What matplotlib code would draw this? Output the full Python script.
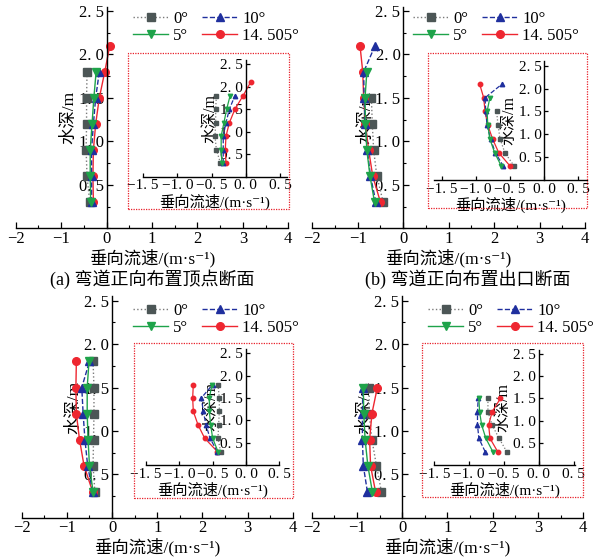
import matplotlib
matplotlib.use("Agg")
import matplotlib.pyplot as plt
from matplotlib.ticker import FixedLocator, FuncFormatter, MultipleLocator
from matplotlib.patches import Rectangle

plt.rcParams['font.family'] = ['Liberation Serif', 'Noto Sans CJK SC', 'DejaVu Serif']
plt.rcParams['axes.unicode_minus'] = True

# ---------------- data ----------------
depth6 = [0.3, 0.6, 0.9, 1.2, 1.5, 1.8]
depth7 = [0.3, 0.6, 0.9, 1.2, 1.5, 1.8, 2.1]
depth5 = [0.3, 0.6, 0.9, 1.2, 1.5]

labels = ["0°", "5°", "10°", "14. 505°"]

# (a) 弯道正向布置顶点断面
a_deg0 = [-0.37, -0.43, -0.45, -0.44, -0.44, -0.43]
a_deg5 = [-0.35, -0.36, -0.36, -0.32, -0.28, -0.23]
a_deg10 = [-0.33, -0.33, -0.33, -0.29, -0.24, -0.16]
a_deg14 = [-0.29, -0.30, -0.29, -0.24, -0.16, -0.04, 0.07]

# (b) 弯道正向布置出口断面
b_deg0 = [-0.44, -0.58, -0.65, -0.68, -0.70]
b_deg5 = [-0.63, -0.73, -0.80, -0.83, -0.84, -0.80]
b_deg10 = [-0.60, -0.72, -0.79, -0.84, -0.86, -0.87, -0.62]
b_deg14 = [-0.50, -0.67, -0.76, -0.83, -0.87, -0.89, -0.95]

# (c)
c_deg0 = [-0.38, -0.42, -0.41, -0.40, -0.40, -0.42]
c_deg5 = [-0.42, -0.50, -0.53, -0.55, -0.55, -0.51]
c_deg10 = [-0.43, -0.54, -0.60, -0.64, -0.67, -0.50]
c_deg14 = [-0.43, -0.62, -0.72, -0.79, -0.80, -0.79]

# (d)
d_deg0 = [-0.46, -0.57, -0.67, -0.73, -0.73]
d_deg5 = [-0.66, -0.76, -0.82, -0.85, -0.86]
d_deg10 = [-0.77, -0.86, -0.88, -0.88, -0.87]
d_deg14 = [-0.59, -0.70, -0.72, -0.67, -0.55]

main_xticks = [-2, -1, 0, 1, 2, 3, 4]
main_yticks = [0.5, 1.0, 1.5, 2.0, 2.5]
inset_xticks = [-1.5, -1.0, -0.5, 0.0, 0.5]
inset_yticks = [0.5, 1.0, 1.5, 2.0, 2.5]

xlabel_text = "垂向流速/(m·s⁻¹)"
ylabel_text = "水深/m"
captions = ["(a) 弯道正向布置顶点断面", "(b) 弯道正向布置出口断面", None, None]

# ---------------- styles ----------------
styles = {
    "0": dict(color="#4c5656", ls=":", marker="s", lc="#7a7a7a"),
    "5": dict(color="#1ea34a", ls="-", marker="v", lc="#1ea34a"),
    "10": dict(color="#1f2f9e", ls="--", marker="^", lc="#1f2f9e"),
    "14": dict(color="#ee2630", ls="-", marker="o", lc="#ee2630"),
}

W, H = 603, 558
fig = plt.figure(figsize=(W / 100, H / 100), dpi=100)


def fbox(x0, x1, ybot, ytop):
    return [x0 / W, 1 - ybot / H, (x1 - x0) / W, (ybot - ytop) / H]


def dec_fmt(v, pos):
    s = f"{abs(v):.1f}".replace('.', '. ')
    return ("−" if v < -1e-9 else "") + s


def int_fmt(v, pos):
    return ("−" if v < -1e-9 else "") + f"{abs(int(round(v)))}"


panels = [
    dict(data=(a_deg0, depth6, a_deg5, depth6, a_deg10, depth6, a_deg14, depth7),
         main=(15.7, 288.3, 228.3, 6.7), inset=(143, 287, 176.7, 59.7), ixlim=(-1.5, 0.6),
         rect=(128, 289, 53, 209), leg=(133, 11), cap=(152, 279)),
    dict(data=(b_deg0, depth5, b_deg5, depth6, b_deg10, depth7, b_deg14, depth7),
         main=(312.3, 585, 228.3, 6.7), inset=(434, 586.5, 180, 61.2), ixlim=(-1.62, 0.62),
         rect=(427.7, 587.3, 52.7, 208.3), leg=(413, 11), cap=(468, 279)),
    dict(data=(c_deg0, depth6, c_deg5, depth6, c_deg10, depth6, c_deg14, depth6),
         main=(21.7, 292.7, 517.7, 296.4), inset=(146, 279.3, 465, 348.8), ixlim=(-1.5, 0.5),
         rect=(134.3, 292.7, 343.3, 497.7), leg=(133, 303), cap=None),
    dict(data=(d_deg0, depth5, d_deg5, depth5, d_deg10, depth5, d_deg14, depth5),
         main=(311.7, 583.3, 517.7, 296.4), inset=(434.3, 575, 465, 349.6), ixlim=(-1.5, 0.52),
         rect=(422, 583.3, 343.3, 497.3), leg=(428, 303), cap=None),
]


def draw_series(ax, data, ms, lw):
    x0, y0, x5, y5, x10, y10, x14, y14 = data
    hs = {}
    order = [("0", x0, y0), ("14", x14, y14), ("10", x10, y10), ("5", x5, y5)]
    for key, xs, ys in order:
        st = styles[key]
        h, = ax.plot(xs, ys, ls=st["ls"], color=st["lc"], lw=lw, marker=st["marker"],
                     ms=ms, mfc=st["color"], mec=st["color"], clip_on=False)
        hs[key] = h
    return [hs["0"], hs["5"], hs["10"], hs["14"]]


def style_axes(ax, xlim, ylim, xticks, yticks, xfmt, tick_fs, minor=True):
    ax.set_xlim(*xlim)
    ax.set_ylim(*ylim)
    ax.spines['left'].set_position(('data', 0))
    ax.spines['bottom'].set_position(('data', 0))
    ax.spines['top'].set_visible(False)
    ax.spines['right'].set_visible(False)
    for s in ('left', 'bottom'):
        ax.spines[s].set_linewidth(1.0)
    ax.xaxis.set_major_locator(FixedLocator(xticks))
    ax.yaxis.set_major_locator(FixedLocator(yticks))
    ax.xaxis.set_major_formatter(FuncFormatter(xfmt))
    ax.yaxis.set_major_formatter(FuncFormatter(dec_fmt))
    if minor:
        ax.xaxis.set_minor_locator(MultipleLocator(0.5))
        ax.yaxis.set_minor_locator(MultipleLocator(0.25))
    ax.tick_params(which='major', direction='in', length=4, width=0.9, labelsize=tick_fs, pad=2)
    ax.tick_params(which='minor', direction='in', length=2, width=0.8)
    ax.patch.set_alpha(0)


for idx, p in enumerate(panels):
    ax = fig.add_axes(fbox(*p["main"]))
    style_axes(ax, (-2, 4), (0, 2.55), main_xticks, main_yticks, int_fmt, 12)
    handles = draw_series(ax, p["data"], 5.5, 1.0)
    ax.set_xlabel(xlabel_text, fontsize=12.5, labelpad=1)
    ax.set_ylabel(ylabel_text, fontsize=12.5, labelpad=1)

    lx, ly = p["leg"]
    fig.legend(handles, labels, loc='upper left', bbox_to_anchor=(lx / W, 1 - ly / H),
               ncol=2, frameon=False, fontsize=12, borderpad=0, borderaxespad=0,
               handlelength=2.1, handletextpad=0.3, columnspacing=0.85, labelspacing=0.05)

    iax = fig.add_axes(fbox(*p["inset"]))
    style_axes(iax, p["ixlim"], (0, 2.6), inset_xticks, inset_yticks, dec_fmt, 11, minor=False)
    iax.tick_params(which='major', length=3)
    draw_series(iax, p["data"], 3.2, 0.9)
    iax.set_xlabel(xlabel_text, fontsize=11, labelpad=1)
    iax.set_ylabel(ylabel_text, fontsize=11.5, labelpad=1)

    rx0, rx1, ry0, ry1 = p["rect"]
    fig.patches.append(Rectangle((rx0 / W, 1 - ry1 / H), (rx1 - rx0) / W, (ry1 - ry0) / H,
                                 transform=fig.transFigure, fill=False, ec="#e8202a",
                                 ls=(0, (1, 1)), lw=0.9))

    if p["cap"] is not None:
        cx, cy = p["cap"]
        fig.text(cx / W, 1 - cy / H, captions[idx], ha='center', va='center', fontsize=13)

fig.savefig("out.png", dpi=100)
